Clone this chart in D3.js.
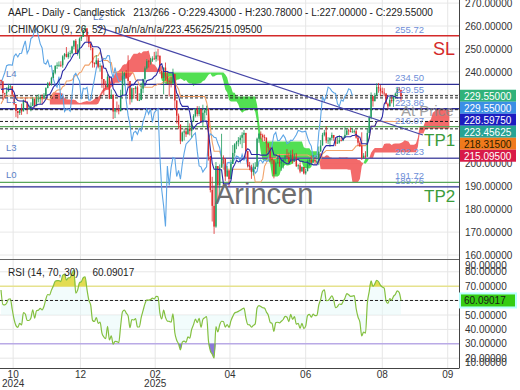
<!DOCTYPE html>
<html>
<head>
<meta charset="utf-8">
<script src="https://cdn.jsdelivr.net/npm/d3@7"></script>
<style>
  body { margin: 0; background: #fff; }
  svg { display: block; font-family: "Liberation Sans", Arial, sans-serif; }
  .pre { white-space: pre; }
</style>
</head>
<body>
<div id="chart"></div>
<script>
// 26 sessions before the visible window (16 Sep - 21 Oct 2024), only used to warm up the indicators
const PRE_CLOSE = [216.32,216.79,220.69,228.87,228.20,226.47,227.37,226.37,227.52,227.79,233.00,226.21,226.78,
  225.67,226.80,221.69,225.77,229.54,229.04,227.55,231.30,233.85,231.78,232.15,235.00,236.48];
const PRE_HIGH = [217.22,216.90,222.71,229.82,233.09,229.45,229.35,227.29,228.50,229.52,233.00,229.65,227.37,
  226.81,228.00,225.69,225.98,229.75,229.50,229.41,231.73,237.49,232.12,233.85,236.18,236.85];
const PRE_LOW = [213.92,214.50,217.54,224.63,227.62,225.81,225.73,224.02,225.41,227.30,229.65,223.74,223.02,
  223.32,224.13,221.33,223.25,224.83,227.17,227.34,228.60,232.37,229.84,230.52,234.01,234.45];

// visible daily sessions, 22 Oct 2024 - 2 Sep 2025 (open = previous close)
const CLOSE = [
  235.86,230.76,230.57,231.41,233.40,233.67,230.10,225.91,
  222.91,222.01,223.45,222.72,227.48,226.96,224.23,224.23,225.12,228.22,225.00,228.02,228.28,229.00,228.52,229.87,232.87,235.06,234.93,237.33,
  239.59,242.65,243.01,243.04,242.84,246.75,247.77,246.49,247.96,248.13,251.04,253.48,248.05,249.79,254.49,255.27,258.20,259.02,255.59,252.20,250.42,
  243.85,243.36,245.00,242.21,242.70,236.85,234.40,233.28,237.87,228.26,229.98,222.64,223.83,223.66,222.78,229.86,238.26,239.36,237.59,236.00,
  228.01,232.80,232.47,233.22,227.63,227.65,232.62,236.87,241.53,244.60,244.47,244.87,245.83,245.55,247.10,247.04,240.36,237.30,241.84,
  238.03,235.93,235.74,235.33,239.07,227.48,220.84,216.98,209.68,213.49,214.00,212.69,215.24,214.10,218.27,220.73,223.75,221.53,223.85,217.90,222.13,
  223.19,223.89,203.19,188.38,181.46,172.42,198.85,190.42,198.15,202.52,202.14,194.27,196.98,193.16,199.74,204.60,208.37,209.28,210.14,211.21,212.50,
  213.32,205.35,198.89,198.51,196.25,197.49,198.53,210.79,212.93,212.33,211.45,211.26,208.78,206.86,202.09,201.36,195.27,200.21,200.42,199.95,200.85,
  201.70,203.27,202.82,200.63,203.92,201.45,202.67,198.78,199.20,196.45,198.42,195.64,196.58,201.00,201.50,200.30,201.56,201.00,201.08,205.17,
  207.82,212.44,213.55,209.95,210.01,211.14,212.41,211.16,208.62,209.11,210.16,210.02,211.18,212.48,214.40,214.15,213.76,213.88,214.05,211.27,209.05,207.57,
  202.38,203.35,202.92,213.25,220.03,229.35,227.18,229.65,233.33,232.78,231.59,230.89,230.56,226.01,224.90,227.76,227.16,229.31,230.49,232.56,232.14,
  229.55];
const HIGH = [
  236.22,235.14,230.82,233.22,234.73,234.33,233.47,229.83,
  225.35,222.79,223.95,226.07,227.88,228.66,225.70,225.59,226.65,228.87,226.92,229.74,230.16,229.93,230.16,230.72,233.25,235.57,235.69,237.81,
  240.79,242.76,244.11,244.54,244.63,247.24,248.21,250.80,248.74,249.29,251.38,253.83,254.28,252.03,255.00,255.65,258.21,260.10,258.70,253.50,253.28,
  249.10,244.18,247.33,245.96,243.71,240.16,234.67,236.12,238.96,238.01,232.29,224.42,224.12,227.03,225.63,232.15,240.19,239.86,240.79,247.19,
  231.83,233.13,232.67,233.80,234.00,230.59,235.23,236.96,242.34,245.55,245.18,246.01,246.78,248.69,248.86,250.00,244.98,242.46,241.84,
  244.03,240.07,236.55,237.86,241.37,236.16,225.84,221.75,216.84,213.95,215.22,215.15,218.76,217.49,218.84,221.48,224.10,225.02,224.99,223.81,225.62,
  223.68,225.19,207.49,199.88,194.15,190.34,200.61,194.78,199.54,212.94,203.51,200.70,198.83,193.80,201.59,208.00,208.83,209.75,211.50,212.24,213.58,
  214.56,207.04,204.10,200.65,199.44,200.05,200.54,211.27,213.40,213.94,212.96,212.57,209.48,208.47,207.04,202.75,197.70,200.74,202.73,203.81,201.96,
  201.77,203.77,206.24,204.75,205.70,206.00,204.35,204.50,199.68,200.37,198.69,198.39,197.57,201.70,202.30,203.44,203.67,202.64,203.22,207.39,
  210.19,213.34,214.65,216.23,211.43,211.33,213.48,212.13,210.91,211.89,212.40,211.80,211.79,215.78,214.95,215.15,215.69,215.24,214.85,214.81,212.39,209.84,
  213.58,204.50,205.34,215.38,220.85,231.00,229.56,230.80,235.00,235.12,234.28,233.12,232.87,230.47,226.52,229.09,229.30,229.49,230.90,233.41,233.38,
  230.78];
const LOW = [
  232.60,227.76,228.41,229.57,232.55,232.32,229.55,225.37,
  220.27,219.71,221.14,221.19,224.57,226.41,221.50,223.36,222.76,225.00,224.27,225.17,226.66,225.89,225.71,228.06,229.74,233.33,233.81,233.97,
  237.16,238.90,241.25,242.13,242.08,241.75,245.34,246.26,245.68,246.24,247.65,249.78,247.74,247.09,245.69,253.45,255.29,257.63,253.06,250.75,249.43,
  241.82,241.89,243.20,241.53,240.05,233.00,229.72,232.47,234.43,228.03,228.48,219.38,219.79,222.30,221.41,223.98,230.81,234.01,237.21,233.44,
  225.70,226.65,228.27,230.43,227.26,227.20,228.13,230.68,235.57,240.99,241.84,243.16,244.29,245.22,244.42,244.91,239.13,237.06,230.20,
  236.11,234.68,229.23,233.16,234.76,224.22,217.45,214.91,208.42,209.58,209.97,211.49,213.75,212.22,211.28,218.58,220.08,220.47,220.56,217.68,216.23,
  218.90,221.02,201.25,187.34,174.62,169.21,171.89,183.00,186.06,201.16,199.80,192.37,194.42,189.81,195.97,202.80,202.94,206.20,207.46,208.37,206.67,
  208.90,202.16,198.21,197.02,193.25,194.68,197.54,206.75,209.00,210.58,209.54,209.77,204.26,205.03,200.71,199.70,193.46,197.43,199.90,198.51,196.78,
  197.76,200.96,202.10,200.15,202.05,200.02,200.57,198.41,197.36,195.70,196.56,195.21,195.07,196.86,198.96,200.20,200.62,199.46,200.00,199.26,
  206.14,208.14,211.81,208.80,208.45,207.22,210.03,209.86,207.54,208.92,208.64,209.59,209.70,211.63,212.23,212.41,213.53,213.40,213.06,210.82,207.72,207.16,
  201.50,202.16,202.16,205.59,216.58,219.25,224.76,227.07,230.43,230.85,229.34,230.11,229.35,225.77,223.78,225.41,226.23,224.69,228.26,229.34,231.37,
  227.00];

// axis ticks (230, 220 and 210 sit under the last-value boxes, as in the source)
const PRICE_TICKS = [270, 260, 250, 240, 200, 190, 180, 170, 160];
const GRID_TICKS = [270, 260, 250, 240, 230, 220, 210, 200, 190, 180, 170, 160];
const RSI_TICKS = [90, 80, 70, 60, 50, 40, 30, 20, 10];
const X_TICK_BARS = [6.5, 42.5, 82.5, 122.5, 163, 204, 239];
const X_TICK_LABELS = ["10", "12", "02", "04", "06", "08", "09"];
const X_YEAR_LABELS = ["2024", "", "2025", "", "", "", ""];

// last values shown in the price scale: close, chikou, tenkan, senkou A, kijun, senkou B
const LAST_VALUES = [229.55, 229.55, 228.5975, 223.45625, 218.315, 215.095];
const RSI_LAST = 60.09017;

// drawn levels and the trend line (bar index, price)
const LEVELS = [255.72, 234.50, 229.55, 223.86, 216.07, 202.23, 191.72, 189.76];
const TREND = [[51.3, 259.7], [225.7, 212.4]];

// ---------------------------------------------------------------
const PLOT_RIGHT = 459;
const MAIN_BOTTOM = 259;
const RSI_TOP = 260;
const RSI_BOTTOM = 368;
const SHIFT = PRE_CLOSE.length;   // 26

const ALL_C = PRE_CLOSE.concat(CLOSE);
const ALL_H = PRE_HIGH.concat(HIGH);
const ALL_L = PRE_LOW.concat(LOW);

const FRAME = d3.select("#chart")
  .append("svg")
    .attr("width", 520)
    .attr("height", 390);

const X_SCALE = d3.scaleLinear().domain([0, 214]).range([1, 401]);
const Y_SCALE = d3.scaleLinear().domain([160, 260]).range([255, 26]);
const RSI_SCALE = d3.scaleLinear().domain([30, 70]).range([343.8, 286.2]);

// clip regions for the two panes
const defs = FRAME.append("defs");
defs.append("clipPath").attr("id", "mainClip")
  .append("rect").attr("x", 0).attr("y", 0).attr("width", PLOT_RIGHT).attr("height", MAIN_BOTTOM);
defs.append("clipPath").attr("id", "rsiClip")
  .append("rect").attr("x", 0).attr("y", RSI_TOP).attr("width", PLOT_RIGHT).attr("height", RSI_BOTTOM - RSI_TOP);

// midpoint of highest high and lowest low over n bars ending at global index g
function mid(g, n) {
  const s = Math.max(0, g - n + 1);
  return (d3.max(ALL_H.slice(s, g + 1)) + d3.min(ALL_L.slice(s, g + 1))) / 2;
}

const tenkan = CLOSE.map((c, j) => ({ j: j, v: mid(j + SHIFT, 9) }));
const kijun = CLOSE.map((c, j) => ({ j: j, v: mid(j + SHIFT, 26) }));
const chikou = d3.range(0, CLOSE.length - 26).map(j => ({ j: j, v: CLOSE[j + 26] }));
const cloud = d3.range(26, CLOSE.length + 26).map(j => ({
  j: j,
  a: (mid(j, 9) + mid(j, 26)) / 2,
  b: mid(j, 52)
}));

// Wilder RSI(14)
function rsi(series, n) {
  const out = series.map(() => null);
  let up = 0, dn = 0;
  for (let i = 1; i <= n; i++) {
    const d = series[i] - series[i - 1];
    if (d > 0) up += d; else dn -= d;
  }
  up /= n; dn /= n;
  out[n] = 100 - 100 / (1 + up / dn);
  for (let i = n + 1; i < series.length; i++) {
    const d = series[i] - series[i - 1];
    up = (up * (n - 1) + Math.max(d, 0)) / n;
    dn = (dn * (n - 1) + Math.max(-d, 0)) / n;
    out[i] = dn === 0 ? 100 : 100 - 100 / (1 + up / dn);
  }
  return out;
}
const RSI_ALL = rsi(ALL_C, 14);
const rsiData = CLOSE.map((c, j) => ({ j: j, v: RSI_ALL[j + SHIFT] }));

// ---------------- grid ----------------
FRAME.append("g").selectAll("line")
  .data(GRID_TICKS)
  .enter().append("line")
    .attr("x1", 0).attr("x2", PLOT_RIGHT)
    .attr("y1", d => Y_SCALE(d)).attr("y2", d => Y_SCALE(d))
    .attr("stroke", "#e8e8e8");

FRAME.append("g").attr("clip-path", "url(#rsiClip)").selectAll("line")
  .data(RSI_TICKS.filter(d => d != 70 && d != 30))
  .enter().append("line")
    .attr("x1", 0).attr("x2", PLOT_RIGHT)
    .attr("y1", d => RSI_SCALE(d)).attr("y2", d => RSI_SCALE(d))
    .attr("stroke", "#e6e6e6");

FRAME.append("g").selectAll("line")
  .data(X_TICK_BARS)
  .enter().append("line")
    .attr("x1", d => X_SCALE(d)).attr("x2", d => X_SCALE(d))
    .attr("y1", 0).attr("y2", RSI_BOTTOM)
    .attr("stroke", "#e6e6e6");

// ---------------- main pane ----------------
const MAIN = FRAME.append("g").attr("clip-path", "url(#mainClip)");

// ichimoku cloud, split by which span is on top
const areaA = d3.area().x(d => X_SCALE(d.j)).y0(MAIN_BOTTOM).y1(d => Y_SCALE(d.a));
const areaB = d3.area().x(d => X_SCALE(d.j)).y0(MAIN_BOTTOM).y1(d => Y_SCALE(d.b));
const topA = d3.area().x(d => X_SCALE(d.j)).y0(0).y1(d => Y_SCALE(d.a));
const topB = d3.area().x(d => X_SCALE(d.j)).y0(0).y1(d => Y_SCALE(d.b));
defs.append("clipPath").attr("id", "aboveB").append("path").attr("d", topB(cloud));
defs.append("clipPath").attr("id", "aboveA").append("path").attr("d", topA(cloud));

MAIN.append("path")
  .attr("d", areaA(cloud))
  .attr("clip-path", "url(#aboveB)")
  .attr("fill", "#f25a5a")
  .attr("opacity", 0.9);
MAIN.append("path")
  .attr("d", areaB(cloud))
  .attr("clip-path", "url(#aboveA)")
  .attr("fill", "#3fdc3f")
  .attr("opacity", 0.9);

// horizontal levels
const LEVEL_COLORS = ["#d42a2a", "#2e2e96", null, "#2e2e96", "#5aa65a", "#5656a8", "#5aa65a", "#2e2e96"];
MAIN.append("g").selectAll("line")
  .data(LEVELS.filter((d, i) => LEVEL_COLORS[i]))
  .enter().append("line")
    .attr("x1", 0).attr("x2", PLOT_RIGHT)
    .attr("y1", d => Y_SCALE(d)).attr("y2", d => Y_SCALE(d))
    .attr("stroke", d => LEVEL_COLORS[LEVELS.indexOf(d)])
    .attr("stroke-width", 1.4);

// dashed lines at the last indicator values
MAIN.append("g").selectAll("line")
  .data(Array.from(new Set(LAST_VALUES)))
  .enter().append("line")
    .attr("x1", 0).attr("x2", PLOT_RIGHT)
    .attr("y1", d => Y_SCALE(d)).attr("y2", d => Y_SCALE(d))
    .attr("stroke", "#222")
    .attr("stroke-dasharray", "3,2");

const line = d3.line().x(d => X_SCALE(d.j)).y(d => Y_SCALE(d.v));

MAIN.append("path").attr("d", line(kijun))
  .attr("fill", "none").attr("stroke", "#f2a36b").attr("stroke-width", 1.1);
MAIN.append("path").attr("d", line(chikou))
  .attr("fill", "none").attr("stroke", "#5ea6e6").attr("stroke-width", 1.1);

// candles
const candles = CLOSE.map((c, j) => ({ j: j, o: ALL_C[j + SHIFT - 1], c: c, h: HIGH[j], l: LOW[j] }));
const CANDLES = MAIN.append("g");
CANDLES.selectAll("line")
  .data(candles)
  .enter().append("line")
    .attr("x1", d => X_SCALE(d.j)).attr("x2", d => X_SCALE(d.j))
    .attr("y1", d => Y_SCALE(Math.max(d.h, d.o, d.c)))
    .attr("y2", d => Y_SCALE(Math.min(d.l, d.o, d.c)))
    .attr("stroke", d => d.c >= d.o ? "#1e9a5c" : "#de2b2b")
    .attr("stroke-width", 0.8);
CANDLES.selectAll("rect")
  .data(candles)
  .enter().append("rect")
    .attr("x", d => X_SCALE(d.j) - 0.7)
    .attr("width", 1.4)
    .attr("y", d => Y_SCALE(Math.max(d.o, d.c)))
    .attr("height", d => Math.max(0.8, Math.abs(Y_SCALE(d.o) - Y_SCALE(d.c))))
    .attr("fill", d => d.c >= d.o ? "#1e9a5c" : "#de2b2b");

MAIN.append("path").attr("d", line(tenkan))
  .attr("fill", "none").attr("stroke", "#2a2aa6").attr("stroke-width", 1.1);

// trend line
MAIN.append("line")
  .attr("x1", X_SCALE(TREND[0][0])).attr("y1", Y_SCALE(TREND[0][1]))
  .attr("x2", X_SCALE(TREND[1][0])).attr("y2", Y_SCALE(TREND[1][1]))
  .attr("stroke", "#4646a8").attr("stroke-width", 1.2);

// level value labels
const LEVEL_TEXT = FRAME.append("g")
  .attr("font-size", "9.5px")
  .attr("fill", "#6f8fd8");
LEVEL_TEXT.selectAll("text")
  .data(LEVELS)
  .enter().append("text")
    .attr("x", 395)
    .attr("y", d => Y_SCALE(d) - 3)
    .text(d => d.toFixed(2));

const SIDE_TEXT = FRAME.append("g").attr("font-size", "9.5px").attr("fill", "#5b7fc6");
SIDE_TEXT.append("text").attr("x", 6).attr("y", Y_SCALE(LEVELS[1]) - 7).text("L4");
SIDE_TEXT.append("text").attr("x", 6).attr("y", Y_SCALE(LEVELS[2]) + 7).text("L1");
SIDE_TEXT.append("text").attr("x", 6).attr("y", Y_SCALE(LEVELS[5]) - 7).text("L3");
SIDE_TEXT.append("text").attr("x", 6).attr("y", Y_SCALE(LEVELS[6]) - 4).text("L0");
SIDE_TEXT.append("text").attr("x", 93).attr("y", 20).text("L2");

FRAME.append("text").attr("x", 433).attr("y", Y_SCALE(LEVELS[0]) + 19)
  .attr("font-size", "18px").attr("fill", "#d42a2a").text("SL");
FRAME.append("text").attr("x", 424).attr("y", Y_SCALE(LEVELS[4]) + 19)
  .attr("font-size", "17px").attr("fill", "#3c9c3c").text("TP1");
FRAME.append("text").attr("x", 424).attr("y", Y_SCALE(LEVELS[7]) + 15)
  .attr("font-size", "17px").attr("fill", "#3c9c3c").text("TP2");

FRAME.append("text").attr("x", 401).attr("y", 116)
  .attr("font-size", "15px").attr("fill", "#8a8a8a").attr("opacity", 0.8).text("At Price");
FRAME.append("text").attr("x", 215).attr("y", 204)
  .attr("font-size", "29px").attr("fill", "#6e6e6e").text("Arincen");

// ---------------- RSI pane ----------------
const RSI_G = FRAME.append("g").attr("clip-path", "url(#rsiClip)");

const rsiArea = d3.area().x(d => X_SCALE(d.j)).y0(RSI_SCALE(50)).y1(d => RSI_SCALE(d.v));
RSI_G.append("path").attr("d", rsiArea(rsiData)).attr("fill", "#e6fafa").attr("opacity", 0.5);

RSI_G.append("line").attr("x1", 0).attr("x2", PLOT_RIGHT)
  .attr("y1", RSI_SCALE(70)).attr("y2", RSI_SCALE(70))
  .attr("stroke", "#e6e28e").attr("stroke-width", 1.6);
RSI_G.append("line").attr("x1", 0).attr("x2", PLOT_RIGHT)
  .attr("y1", RSI_SCALE(30)).attr("y2", RSI_SCALE(30))
  .attr("stroke", "#b9aae6").attr("stroke-width", 1.6);

const overArea = d3.area().x(d => X_SCALE(d.j)).y0(RSI_SCALE(70)).y1(d => RSI_SCALE(Math.max(d.v, 70)));
const underArea = d3.area().x(d => X_SCALE(d.j)).y0(RSI_SCALE(30)).y1(d => RSI_SCALE(Math.min(d.v, 30)));
RSI_G.append("path").attr("d", overArea(rsiData)).attr("fill", "#e2dc52");
RSI_G.append("path").attr("d", underArea(rsiData)).attr("fill", "#8a7ad8");

RSI_G.append("line").attr("x1", 0).attr("x2", PLOT_RIGHT)
  .attr("y1", RSI_SCALE(RSI_LAST)).attr("y2", RSI_SCALE(RSI_LAST))
  .attr("stroke", "#222").attr("stroke-dasharray", "3,2");

RSI_G.append("path")
  .attr("d", d3.line().x(d => X_SCALE(d.j)).y(d => RSI_SCALE(d.v)).curve(d3.curveMonotoneX)(rsiData))
  .attr("fill", "none").attr("stroke", "#84c040").attr("stroke-width", 1.2);

// ---------------- frame lines ----------------
FRAME.append("line").attr("x1", PLOT_RIGHT + 0.5).attr("x2", PLOT_RIGHT + 0.5)
  .attr("y1", 0).attr("y2", RSI_BOTTOM + 0.5).attr("stroke", "#444");
FRAME.append("line").attr("x1", 0).attr("x2", PLOT_RIGHT)
  .attr("y1", RSI_TOP - 0.5).attr("y2", RSI_TOP - 0.5).attr("stroke", "#666");
FRAME.append("line").attr("x1", 0).attr("x2", PLOT_RIGHT)
  .attr("y1", RSI_BOTTOM + 0.5).attr("y2", RSI_BOTTOM + 0.5).attr("stroke", "#444");

// ---------------- price axis ----------------
FRAME.append("g")
  .attr("transform", "translate(465,0)")
  .call(d3.axisRight(Y_SCALE).tickValues(PRICE_TICKS).tickSize(0).tickPadding(0).tickFormat(d3.format(".5f")))
  .attr("font-size", "10px")
  .attr("font-family", "Liberation Sans, Arial, sans-serif")
  .attr("color", "#333")
  .call(g => g.select(".domain").remove());

// stacked last-value boxes
const BOX_COLORS = ["#2fb27a", "#3b8fe5", "#1c1cc0", "#27a394", "#f07a1c", "#d81b48"];
let boxTop = -100;
const boxes = LAST_VALUES.map(v => {
  boxTop = Math.max(Y_SCALE(v) - 6, boxTop + 12);
  return { v: v, top: boxTop };
});
const BOX_G = FRAME.append("g");
BOX_G.selectAll("rect")
  .data(boxes)
  .enter().append("rect")
    .attr("x", 460).attr("y", d => d.top)
    .attr("width", 56).attr("height", 12)
    .attr("fill", (d, i) => BOX_COLORS[i]);
BOX_G.selectAll("text")
  .data(boxes)
  .enter().append("text")
    .attr("x", 464).attr("y", d => d.top + 10)
    .attr("font-size", "10px")
    .attr("fill", (d, i) => i == 4 ? "#2a1a00" : "#fff")
    .text(d => d.v.toFixed(5));

// ---------------- RSI axis ----------------
FRAME.append("g").selectAll("text")
  .data(RSI_TICKS)
  .enter().append("text")
    .attr("x", 465)
    .attr("y", d => Math.min(362, Math.max(265, RSI_SCALE(d))) + 3.5)
    .attr("font-size", "10px")
    .attr("fill", "#333")
    .text(d => d.toFixed(5));

FRAME.append("rect").attr("x", 459).attr("y", RSI_SCALE(RSI_LAST) - 8)
  .attr("width", 58).attr("height", 16).attr("fill", "#b8ffff");
FRAME.append("rect").attr("x", 461).attr("y", RSI_SCALE(RSI_LAST) - 6)
  .attr("width", 54).attr("height", 12).attr("fill", "#35cc12");
FRAME.append("text").attr("x", 464).attr("y", RSI_SCALE(RSI_LAST) + 3.5)
  .attr("font-size", "10px").attr("fill", "#1a1a1a").text(RSI_LAST.toFixed(5));

// ---------------- time axis ----------------
const X_AXIS = FRAME.append("g").attr("font-size", "10px").attr("fill", "#333").attr("text-anchor", "middle");
X_AXIS.selectAll("text.m")
  .data(X_TICK_BARS)
  .enter().append("text")
    .attr("class", "m")
    .attr("x", d => X_SCALE(d)).attr("y", 378)
    .text((d, i) => X_TICK_LABELS[i]);
X_AXIS.selectAll("text.yr")
  .data(X_TICK_BARS)
  .enter().append("text")
    .attr("class", "yr")
    .attr("x", d => X_SCALE(d)).attr("y", 387)
    .text((d, i) => X_YEAR_LABELS[i]);

// ---------------- headers ----------------
const HEAD = FRAME.append("g").attr("font-size", "10px").attr("fill", "#222");
HEAD.append("text").attr("class", "pre").attr("x", 8).attr("y", 16)
  .text("AAPL - Daily - Candlestick   213/266 - O:229.43000 - H:230.78000 - L:227.00000 - C:229.55000");
HEAD.append("text").attr("class", "pre").attr("x", 8).attr("y", 33)
  .text("ICHIMOKU (9, 26, 52)   n/a/n/a/n/a/223.45625/215.09500");
HEAD.append("text").attr("class", "pre").attr("x", 8).attr("y", 276)
  .text("RSI (14, 70, 30)     " + RSI_LAST.toFixed(5));
</script>
</body>
</html>
